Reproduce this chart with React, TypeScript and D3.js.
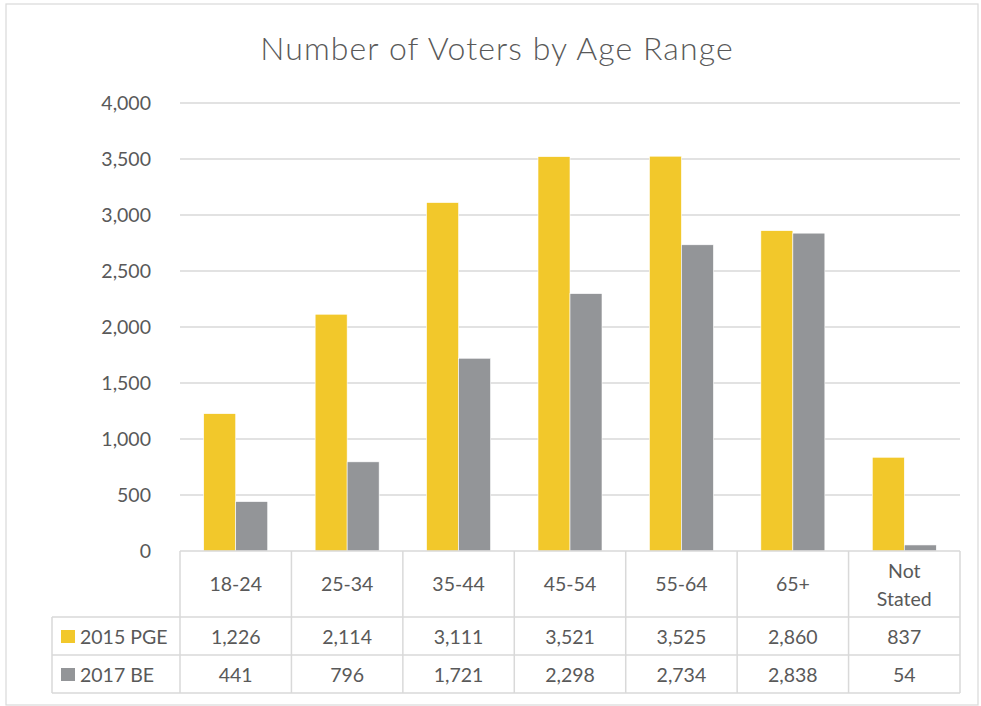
import React from "react";
import * as d3 from "d3";

const categories = ["18-24", "25-34", "35-44", "45-54", "55-64", "65+", "Not Stated"];
const seriesNames = ["2015 PGE", "2017 BE"];
const pge2015 = [1226, 2114, 3111, 3521, 3525, 2860, 837];
const be2017 = [441, 796, 1721, 2298, 2734, 2838, 54];
const yTicks = [0, 500, 1000, 1500, 2000, 2500, 3000, 3500, 4000];
const colors = ["#F2C82B", "#939598"];

const W = 981;
const H = 706;
const left = 180;
const right = 960;
const top = 103;
const bottom = 551;
const legendLeft = 52;
const row1 = 617;
const row2 = 655;
const row3 = 693;
const FONT = "Lato, 'Open Sans', sans-serif";
const TXT = "#595959";
const LINE = "#D9D9D9";
const FS = 19.5;

export default function App() {
  const x = d3.scaleBand<string>().domain(categories).range([left, right]);
  const y = d3.scaleLinear().domain([0, 4000]).range([bottom, top]);
  const barW = 32;
  const fmt = d3.format(",");
  const series = [pge2015, be2017];

  return (
    <svg width={W} height={H} style={{ position: "absolute", left: 0, top: 0, background: "#fff" }}>
      <rect x={6} y={4} width={972} height={701} fill="#fff" stroke={LINE} strokeWidth={1.2} />
      <text x={497} y={59.5} textAnchor="middle" fontFamily={FONT} fontWeight={300} fontSize={32} letterSpacing={1.1} fill={TXT}>
        Number of Voters by Age Range
      </text>
      {yTicks.map((t) => (
        <g key={t}>
          {t > 0 && <line x1={left} x2={right} y1={y(t)} y2={y(t)} stroke={LINE} strokeWidth={1.5} />}
          <text x={151} y={y(t) + 7} textAnchor="end" fontFamily={FONT} fontSize={FS} fill={TXT}>
            {fmt(t)}
          </text>
        </g>
      ))}
      {categories.map((c, i) => {
        const cx = x(c)! + x.bandwidth() / 2;
        return (
          <g key={c}>
            {series.map((s, j) => (
              <rect
                key={j}
                x={cx - barW + j * barW}
                y={y(s[i])}
                width={barW}
                height={bottom - y(s[i])}
                fill={colors[j]}
                stroke="#fff"
                strokeWidth={0.6}
              />
            ))}
          </g>
        );
      })}
      <line x1={left} x2={right} y1={bottom} y2={bottom} stroke={LINE} strokeWidth={1.5} />
      {[row1, row2, row3].map((r) => (
        <line key={r} x1={legendLeft} x2={right} y1={r} y2={r} stroke={LINE} strokeWidth={1.5} />
      ))}
      <line x1={legendLeft} x2={legendLeft} y1={row1} y2={row3} stroke={LINE} strokeWidth={1.5} />
      {categories.map((c) => (
        <line key={c} x1={x(c)!} x2={x(c)!} y1={bottom} y2={row3} stroke={LINE} strokeWidth={1.5} />
      ))}
      <line x1={right} x2={right} y1={bottom} y2={row3} stroke={LINE} strokeWidth={1.5} />
      {categories.map((c) => {
        const cx = x(c)! + x.bandwidth() / 2;
        const parts = c === "Not Stated" ? ["Not", "Stated"] : [c];
        return (
          <g key={c}>
            {parts.length === 1 ? (
              <text x={cx} y={591} textAnchor="middle" fontFamily={FONT} fontSize={FS} fill={TXT}>
                {c}
              </text>
            ) : (
              parts.map((p, k) => (
                <text key={p} x={cx} y={578 + k * 28} textAnchor="middle" fontFamily={FONT} fontSize={FS} fill={TXT}>
                  {p}
                </text>
              ))
            )}
          </g>
        );
      })}
      {series.map((s, j) => {
        const ry = j === 0 ? 644 : 682;
        return (
          <g key={j}>
            <rect x={61} y={ry - 14} width={14} height={13} fill={colors[j]} />
            <text x={80} y={ry} fontFamily={FONT} fontSize={FS} fill={TXT}>
              {seriesNames[j]}
            </text>
            {categories.map((c, i) => (
              <text key={c} x={x(c)! + x.bandwidth() / 2} y={ry} textAnchor="middle" fontFamily={FONT} fontSize={FS} fill={TXT}>
                {fmt(s[i])}
              </text>
            ))}
          </g>
        );
      })}
    </svg>
  );
}
